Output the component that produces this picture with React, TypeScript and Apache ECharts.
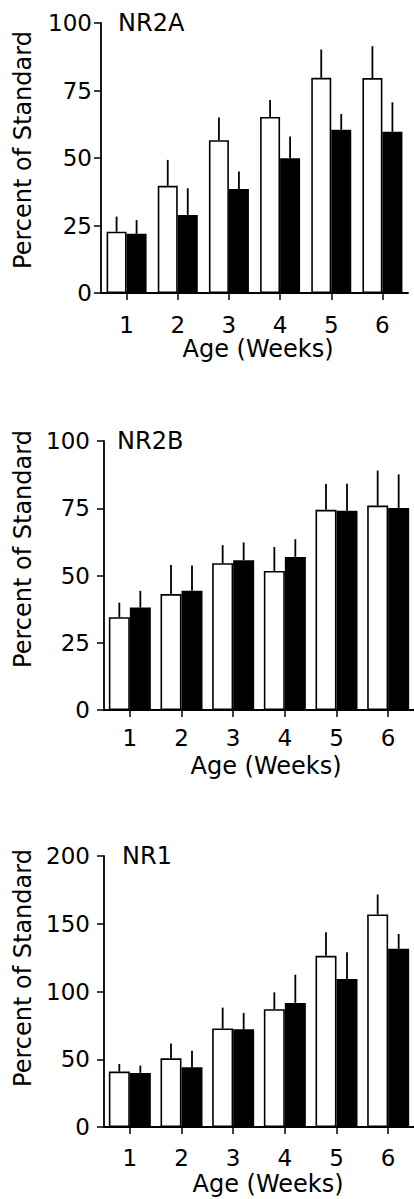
import React, { useEffect, useRef } from "react";
import * as echarts from "echarts";

const weeks = ["1", "2", "3", "4", "5", "6"];

const nr2aOpen = [22.7, 39.7, 56.6, 65.2, 79.7, 79.6];
const nr2aOpenErr = [5.6, 9.6, 8.4, 6.3, 10.5, 11.8];
const nr2aFilled = [21.9, 28.9, 38.5, 49.9, 60.5, 59.7];
const nr2aFilledErr = [5.1, 9.9, 6.5, 8.1, 5.8, 10.9];

const nr2bOpen = [34.5, 43.1, 54.6, 51.7, 74.4, 76.0];
const nr2bOpenErr = [5.4, 10.8, 6.7, 8.9, 9.6, 13.0];
const nr2bFilled = [38.1, 44.3, 55.7, 56.9, 74.1, 75.1];
const nr2bFilledErr = [6.2, 9.4, 6.6, 6.6, 10.0, 12.5];

const nr1Open = [40.9, 50.7, 72.7, 86.9, 126.3, 156.9];
const nr1OpenErr = [5.6, 11.0, 15.4, 12.5, 17.4, 14.7];
const nr1Filled = [39.9, 44.1, 72.2, 91.6, 109.2, 131.5];
const nr1FilledErr = [5.4, 12.2, 12.0, 20.8, 19.8, 11.0];

const panelTitles = ["NR2A", "NR2B", "NR1"];
const yMax = [100, 100, 200];
const yInterval = [25, 25, 50];
const yAxisTitle = "Percent of Standard";
const xAxisTitle = "Age (Weeks)";

const FONT = "DejaVu Sans";
const INK = "#000";

export default function App() {
  const ref = useRef<HTMLDivElement>(null);

  useEffect(() => {
    if (!ref.current) return;
    const chart = echarts.init(ref.current, null, { renderer: "svg" });

    const panels = [
      { open: nr2aOpen, openErr: nr2aOpenErr, filled: nr2aFilled, filledErr: nr2aFilledErr },
      { open: nr2bOpen, openErr: nr2bOpenErr, filled: nr2bFilled, filledErr: nr2bFilledErr },
      { open: nr1Open, openErr: nr1OpenErr, filled: nr1Filled, filledErr: nr1FilledErr },
    ];

    const grids = [
      { left: 101, top: 23, width: 307, height: 270 },
      { left: 104, top: 441, width: 312, height: 269 },
      { left: 104, top: 856, width: 312, height: 271 },
    ];
    const barW = [20, 21, 21];
    const xLabelMargin = [20, 16, 19];
    const yLabelMargin = [9, 14, 14];
    const yNameCenter = [150, 549, 968];
    const xNameCenter = [258, 266, 268];
    const xNameY = [349, 766, 1184];
    const titleX = [118, 117, 122];

    const xAxes: any[] = [];
    const yAxes: any[] = [];
    const series: any[] = [];
    const graphics: any[] = [];

    const errSeries = (idx: number, vals: number[], errs: number[], dir: number) => ({
      type: "custom",
      xAxisIndex: idx,
      yAxisIndex: idx,
      silent: true,
      z: 5,
      data: vals.map((v, i) => [i, v, errs[i]]),
      encode: { x: 0, y: 1 },
      renderItem: (params: any, api: any) => {
        const base = api.coord([api.value(0), api.value(1)]);
        const tip = api.coord([api.value(0), api.value(1) + api.value(2)]);
        const x = base[0] + (dir * barW[idx]) / 2;
        return {
          type: "line",
          shape: { x1: x, y1: base[1], x2: x, y2: tip[1] },
          style: { stroke: "#000", lineWidth: 1.8 },
        };
      },
    });

    panels.forEach((p, idx) => {
      const g = grids[idx];
      xAxes.push({
        type: "category",
        gridIndex: idx,
        data: weeks,
        axisLine: { show: true, lineStyle: { color: "#000", width: 1.8 } },
        axisTick: { show: true, alignWithLabel: true, length: 7, lineStyle: { color: "#000", width: 1.5 } },
        axisLabel: { color: INK, fontFamily: FONT, fontSize: 23, margin: xLabelMargin[idx] },
        splitLine: { show: false },
      });
      yAxes.push({
        type: "value",
        gridIndex: idx,
        min: 0,
        max: yMax[idx],
        interval: yInterval[idx],
        axisLine: { show: true, lineStyle: { color: "#000", width: 1.8 } },
        axisTick: { show: true, length: 7, lineStyle: { color: "#000", width: 1.5 } },
        axisLabel: { color: INK, fontFamily: FONT, fontSize: 23, margin: yLabelMargin[idx] },
        splitLine: { show: false },
      });
      series.push({
        type: "bar",
        xAxisIndex: idx,
        yAxisIndex: idx,
        data: p.open,
        barWidth: barW[idx],
        barGap: "0%",
        itemStyle: { color: "#fff", borderColor: "#000", borderWidth: 1.6 },
      });
      series.push({
        type: "bar",
        xAxisIndex: idx,
        yAxisIndex: idx,
        data: p.filled,
        barWidth: barW[idx],
        barGap: "0%",
        itemStyle: { color: "#000", borderColor: "#000", borderWidth: 1.6 },
      });
      series.push(errSeries(idx, p.open, p.openErr, -1));
      series.push(errSeries(idx, p.filled, p.filledErr, 1));

      graphics.push({
        type: "text",
        left: titleX[idx],
        top: g.top - 12,
        style: { text: panelTitles[idx], fill: INK, font: `24px "${FONT}"` },
      });
      graphics.push({
        type: "text",
        x: 23,
        y: yNameCenter[idx],
        rotation: Math.PI / 2,
        style: {
          text: yAxisTitle,
          fill: INK,
          font: `24px "${FONT}"`,
          align: "center",
          verticalAlign: "middle",
        },
      });
      graphics.push({
        type: "text",
        x: xNameCenter[idx],
        y: xNameY[idx],
        style: {
          text: xAxisTitle,
          fill: INK,
          font: `24px "${FONT}"`,
          align: "center",
          verticalAlign: "middle",
        },
      });
    });

    chart.setOption({
      animation: false,
      backgroundColor: "#fff",
      grid: grids.map((g) => ({ ...g, containLabel: false })),
      xAxis: xAxes,
      yAxis: yAxes,
      series,
      graphic: graphics,
    });

    return () => chart.dispose();
  }, []);

  return (
    <div
      ref={ref}
      style={{ position: "absolute", left: 0, top: 0, width: 414, height: 1199, background: "#fff" }}
    />
  );
}
